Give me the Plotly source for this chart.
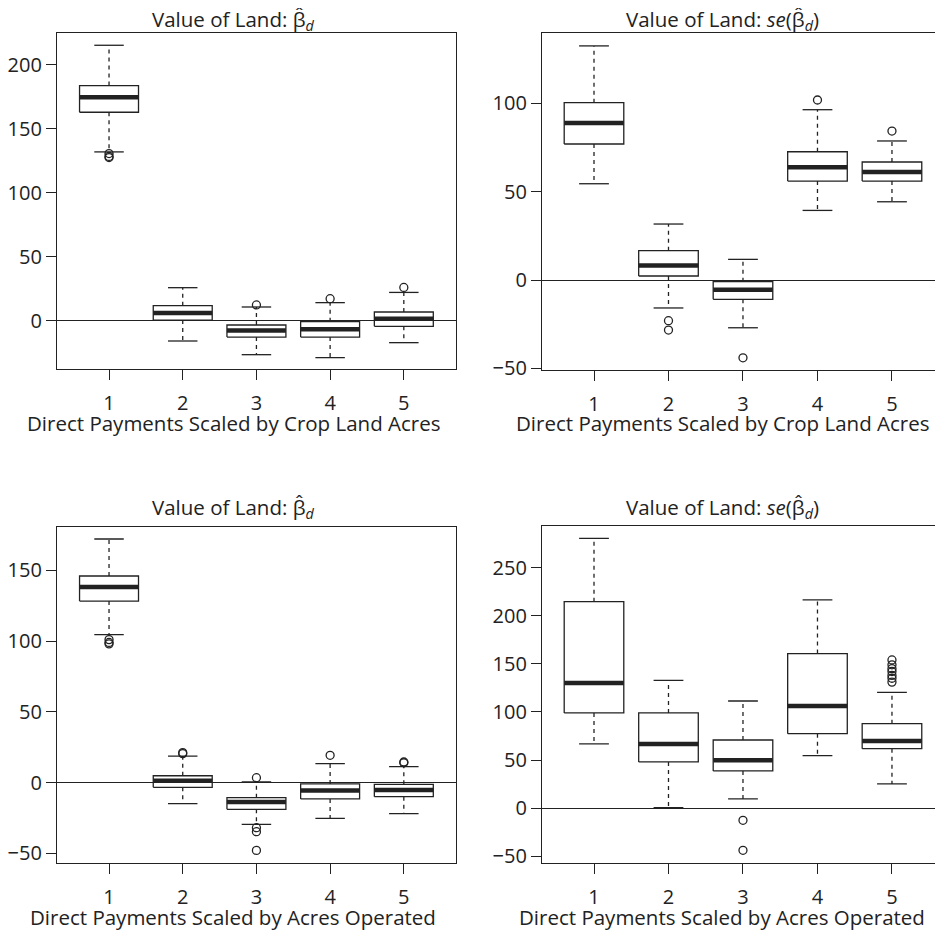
import plotly.graph_objects as go

# ---------------- data ----------------
categories = [1, 2, 3, 4, 5]

# Panel A: Crop Land Acres, beta_d
a_low = [132.0, -15.9, -26.6, -28.9, -17.2]
a_q1 = [163.0, 0.5, -12.8, -12.8, -4.4]
a_med = [174.7, 6.0, -7.6, -6.8, 1.6]
a_q3 = [183.9, 11.7, -3.4, -0.8, 6.8]
a_high = [215.4, 25.8, 10.7, 14.1, 22.1]
a_out = [[130.7, 128.5, 127.6], [], [12.3], [17.2], [26.0]]

# Panel B: Crop Land Acres, se(beta_d)
b_low = [54.5, -15.8, -27.0, 39.4, 44.3]
b_q1 = [77.0, 2.3, -10.9, 56.0, 56.0]
b_med = [88.9, 8.3, -5.5, 63.8, 61.1]
b_q3 = [100.4, 16.6, -0.9, 72.6, 66.8]
b_high = [132.5, 31.7, 11.7, 96.4, 78.7]
b_out = [[], [-23.0, -28.3], [-44.0], [101.9], [84.3]]

# Panel C: Acres Operated, beta_d
c_low = [104.5, -14.8, -29.4, -25.2, -21.9]
c_q1 = [128.2, -3.3, -18.8, -11.5, -9.9]
c_med = [138.1, 1.4, -13.6, -5.6, -5.2]
c_q3 = [145.9, 4.9, -10.6, -0.9, -1.2]
c_high = [172.0, 18.8, 0.5, 13.4, 11.3]
c_out = [[101.0, 99.0, 98.0], [21.2, 20.5], [3.5, -31.8, -34.6, -47.8], [19.3], [14.6, 14.0]]

# Panel D: Acres Operated, se(beta_d)
d_low = [66.8, 0.7, 9.7, 54.7, 25.3]
d_q1 = [99.0, 48.1, 38.8, 77.5, 61.9]
d_med = [130.1, 66.8, 49.8, 106.2, 69.9]
d_q3 = [214.5, 99.0, 70.9, 160.6, 87.9]
d_high = [280.3, 132.9, 111.4, 216.3, 120.4]
d_out = [[], [], [-12.5, -43.6], [], [154.0, 149.0, 145.0, 142.0, 138.0, 135.0, 131.0]]

y_ticks_a = [0, 50, 100, 150, 200]
y_ticks_b = [-50, 0, 50, 100]
y_ticks_c = [-50, 0, 50, 100, 150]
y_ticks_d = [-50, 0, 50, 100, 150, 200, 250]

title_beta = "Value of Land: β\u0302<sub><i>d</i></sub>"
title_se = "Value of Land: <i>se</i>(β\u0302<sub><i>d</i></sub>)"
xtitle_crop = "Direct Payments Scaled by Crop Land Acres"
xtitle_oper = "Direct Payments Scaled by Acres Operated"

# ---------------- layout geometry ----------------
PAGE_OFF = 8          # default body margin of the html page
W, H = 943 - PAGE_OFF, 931 - PAGE_OFF
INK = "#222222"
FONT = "Open Sans"
FS = 20
FS_T = 20.5
BOX_HW = 0.4
CAP_HW = 0.2
LW = 1.3

def px_x(p):
    return (p - PAGE_OFF) / W

def px_y(p):
    return 1 - (p - PAGE_OFF) / H

panels = [
    dict(stats=(a_low, a_q1, a_med, a_q3, a_high, a_out), yt=y_ticks_a,
         xd=[57, 456], yd=[33, 369], xr=[0.294, 5.708], yr=[-37.8, 225.0],
         right=False, title=title_beta, xtitle=xtitle_crop, tx=233, ty=19.5, xty=422.5),
    dict(stats=(b_low, b_q1, b_med, b_q3, b_high, b_out), yt=y_ticks_b,
         xd=[542, 943], yd=[33, 370], xr=[0.302, 5.685], yr=[-50.9, 139.8],
         right=True, title=title_se, xtitle=xtitle_crop, tx=722, ty=19.5, xty=422.5),
    dict(stats=(c_low, c_q1, c_med, c_q3, c_high, c_out), yt=y_ticks_c,
         xd=[57, 456], yd=[526.7, 862.7], xr=[0.294, 5.708], yr=[-56.5, 180.7],
         right=False, title=title_beta, xtitle=xtitle_oper, tx=233, ty=508, xty=916.5),
    dict(stats=(d_low, d_q1, d_med, d_q3, d_high, d_out), yt=y_ticks_d,
         xd=[542, 943], yd=[526, 862.7], xr=[0.302, 5.685], yr=[-56.5, 293.1],
         right=True, title=title_se, xtitle=xtitle_oper, tx=722, ty=508, xty=916.5),
]

fig = go.Figure()
annotations = []
layout_axes = {}

for k, p in enumerate(panels):
    n = "" if k == 0 else str(k + 1)
    xa, ya = "x" + n, "y" + n
    low, q1, med, q3, high, outs = p["stats"]

    bx, by, mx, my, wx, wy, cx, cy, ox, oy = [], [], [], [], [], [], [], [], [], []
    for i, c in enumerate(categories):
        bx += [c - BOX_HW, c + BOX_HW, c + BOX_HW, c - BOX_HW, c - BOX_HW, None]
        by += [q1[i], q1[i], q3[i], q3[i], q1[i], None]
        mx += [c - BOX_HW, c + BOX_HW, None]
        my += [med[i], med[i], None]
        wx += [c, c, None, c, c, None]
        wy += [q3[i], high[i], None, q1[i], low[i], None]
        cx += [c - CAP_HW, c + CAP_HW, None, c - CAP_HW, c + CAP_HW, None]
        cy += [high[i], high[i], None, low[i], low[i], None]
        for o in outs[i]:
            ox.append(c)
            oy.append(o)

    common = dict(xaxis=xa, yaxis=ya, showlegend=False, hoverinfo="skip")
    fig.add_trace(go.Scatter(x=wx, y=wy, mode="lines",
                             line=dict(color=INK, width=LW, dash="4px,4px"), **common))
    fig.add_trace(go.Scatter(x=cx, y=cy, mode="lines",
                             line=dict(color=INK, width=LW), **common))
    fig.add_trace(go.Scatter(x=bx, y=by, mode="lines",
                             line=dict(color=INK, width=LW), **common))
    fig.add_trace(go.Scatter(x=mx, y=my, mode="lines",
                             line=dict(color=INK, width=4.5), **common))
    fig.add_trace(go.Scatter(x=ox, y=oy, mode="markers",
                             marker=dict(symbol="circle-open", size=8, color=INK,
                                         line=dict(width=LW, color=INK)), **common))

    layout_axes["xaxis" + n] = dict(
        domain=[px_x(p["xd"][0]), min(1.0, px_x(p["xd"][1]))], range=p["xr"], anchor=ya,
        tickvals=categories, ticktext=[str(c) for c in categories],
        ticks="outside", ticklen=10, tickwidth=LW, tickcolor=INK, ticklabelstandoff=6,
        showline=True, linecolor=INK, linewidth=LW, mirror=True,
        showgrid=False, zeroline=False, automargin=False,
        tickfont=dict(family=FONT, size=FS, color=INK),
    )
    layout_axes["yaxis" + n] = dict(
        domain=[px_y(p["yd"][1]), px_y(p["yd"][0])], range=p["yr"], anchor=xa,
        tickvals=p["yt"], ticks="outside", ticklen=10, tickwidth=LW, tickcolor=INK,
        showline=True, linecolor=INK, linewidth=LW, mirror=not p["right"],
        showgrid=False, zeroline=True, zerolinecolor=INK, zerolinewidth=LW,
        automargin=False,
        tickfont=dict(family=FONT, size=FS, color=INK),
    )

    annotations.append(dict(
        text=p["title"], x=px_x(p["tx"]), y=px_y(p["ty"]),
        xref="paper", yref="paper", xanchor="center", yanchor="middle",
        showarrow=False, font=dict(family=FONT, size=FS_T, color=INK)))
    annotations.append(dict(
        text=p["xtitle"], x=px_x(p["tx"]), y=px_y(p["xty"]),
        xref="paper", yref="paper", xanchor="center", yanchor="middle",
        showarrow=False, font=dict(family=FONT, size=FS_T, color=INK)))

fig.update_layout(
    width=W, height=H,
    margin=dict(l=0, r=0, t=0, b=0, autoexpand=False),
    paper_bgcolor="white", plot_bgcolor="white",
    annotations=annotations,
    **layout_axes,
)

fig.write_html("out.html")
